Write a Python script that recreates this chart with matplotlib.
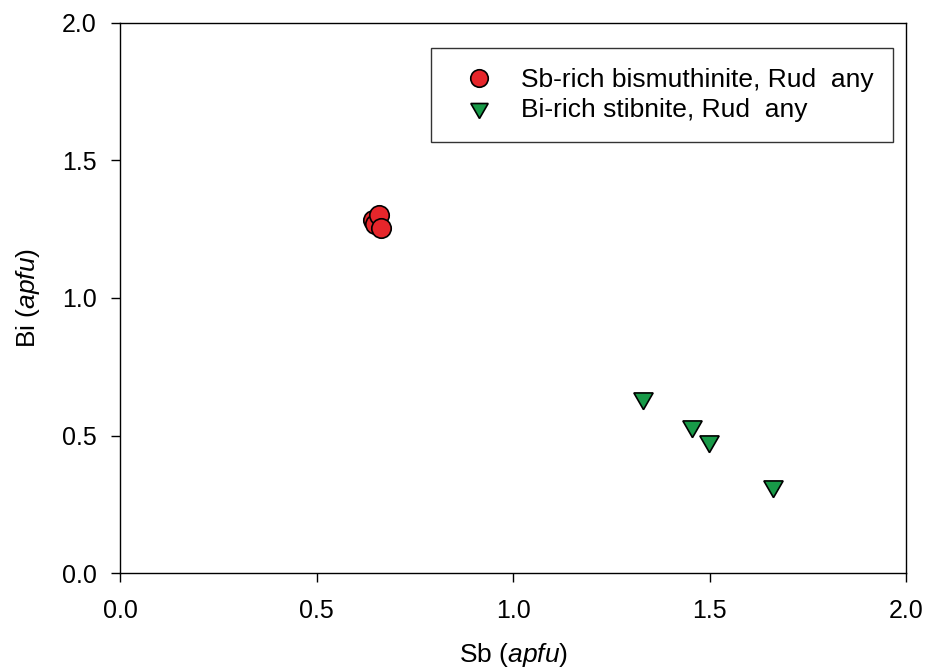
import matplotlib
matplotlib.use("Agg")
import matplotlib.pyplot as plt

plt.rcParams['font.family'] = ['Liberation Sans', 'DejaVu Sans']
plt.rcParams['mathtext.fontset'] = 'custom'
plt.rcParams['mathtext.it'] = 'Liberation Sans:italic'
plt.rcParams['mathtext.rm'] = 'Liberation Sans'

bism_sb = [0.643, 0.650, 0.660, 0.665]
bism_bi = [1.285, 1.270, 1.300, 1.255]
stib_sb = [1.331, 1.455, 1.499, 1.662]
stib_bi = [0.636, 0.534, 0.480, 0.316]
labels = ["Sb-rich bismuthinite, Rud  any", "Bi-rich stibnite, Rud  any"]
ticks = [0.0, 0.5, 1.0, 1.5, 2.0]

fig = plt.figure(figsize=(9.26, 6.72), dpi=100)
ax = fig.add_axes([0.1296, 0.1473, 0.8488, 0.8185])

ax.plot(bism_sb, bism_bi, linestyle='none', marker='o', markersize=14,
        markerfacecolor='#e6262b', markeredgecolor='black', markeredgewidth=1.2,
        label=labels[0])
ax.plot(stib_sb, stib_bi, linestyle='none', marker=(3, 0, 180), markersize=16,
        markerfacecolor='#189a48', markeredgecolor='black', markeredgewidth=1.2,
        label=labels[1])

ax.set_xlim(0, 2)
ax.set_ylim(0, 2)
ax.set_xticks(ticks)
ax.set_yticks(ticks)
ax.set_xticklabels([f"{t:.1f}" for t in ticks])
ax.set_yticklabels([f"{t:.1f}" for t in ticks])
ax.tick_params(direction='out', length=6.5, width=1, labelsize=18)
ax.tick_params(axis='x', pad=12)
ax.tick_params(axis='y', pad=10.5)
for s in ax.spines.values():
    s.set_linewidth(1)

ax.set_xlabel(r"Sb $\mathit{(apfu)}$", fontsize=19, labelpad=13)
ax.set_ylabel(r"Bi $\mathit{(apfu)}$", fontsize=19, labelpad=14)

leg = ax.legend(loc='upper right', bbox_to_anchor=(0.9835, 0.9545), fontsize=19,
                frameon=True, fancybox=False, edgecolor='black', borderpad=0.75,
                handlelength=2.08, handletextpad=0.55, labelspacing=0.25,
                borderaxespad=0, markerscale=0.9)
leg.get_frame().set_linewidth(1)

fig.savefig("out.png", dpi=100)
